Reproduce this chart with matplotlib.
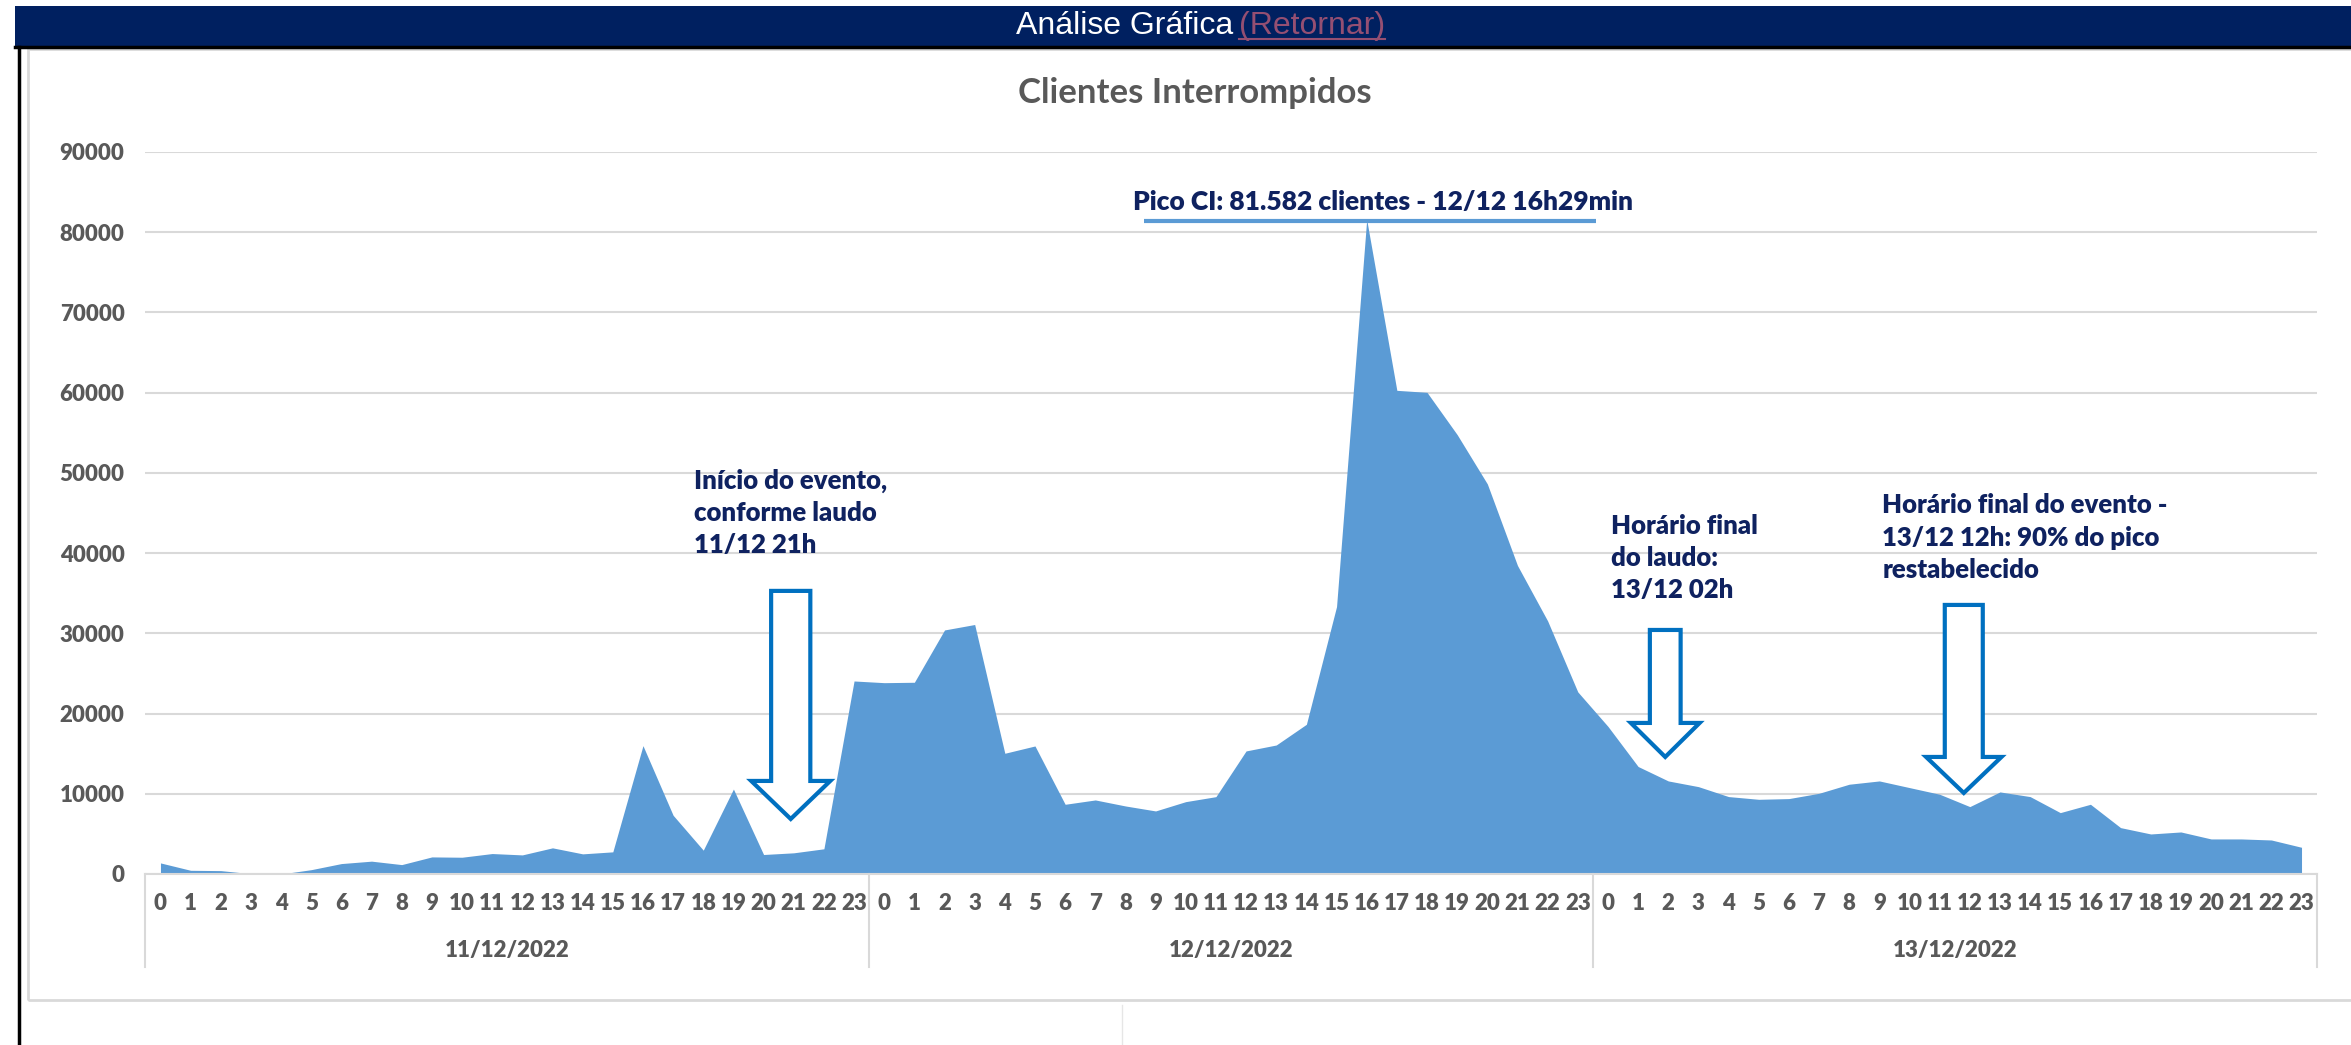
import matplotlib
matplotlib.use("Agg")
import matplotlib.pyplot as plt
from matplotlib.patches import Rectangle, FancyArrow
from matplotlib.lines import Line2D

# data: clientes interrompidos por hora
dates = ["11/12/2022", "12/12/2022", "13/12/2022"]
hours = list(range(24))
ci_11 = [1380, 460, 420, 40, 0, 540, 1300, 1600, 1170, 2130, 2090, 2550,
         2380, 3260, 2510, 2760, 16000, 7320, 2970, 10590, 2430, 2640, 3140, 24060]
ci_12 = [23850, 23900, 30420, 31100, 15050, 15960, 8690, 9230, 8480, 7860, 9020, 9640,
         15340, 16080, 18660, 33330, 81582, 60290, 60040, 54770, 48630, 38460, 31550, 22700]
ci_13 = [18400, 13400, 11600, 10890, 9650, 9310, 9400, 10060, 11190, 11600, 10770, 9940,
         8400, 10230, 9650, 7650, 8690, 5780, 4990, 5240, 4370, 4370, 4240, 3330]

ci = ci_11 + ci_12 + ci_13
hour_labels = [str(h) for h in hours] * len(dates)
x = list(range(len(ci)))

W, H = 2351, 1045
NAVY = "#0f2260"
GRAY = "#595959"
GRID = "#d9d9d9"
ARROW = "#0070c0"
FONT = ["Lato", "DejaVu Sans"]


def fx(px):
    return px / W


def fy(py):
    return 1 - py / H


fig = plt.figure(figsize=(W / 100, H / 100), dpi=100)

# page frame / header
fig.add_artist(Rectangle((fx(15), fy(46)), 1 - fx(15), fy(6) - fy(46), color="#002060", lw=0))
fig.add_artist(Rectangle((fx(28), fy(1000)), 1.0, fy(49) - fy(1000), fill=False, ec=GRID, lw=2))
fig.add_artist(Line2D([fx(15), 1], [fy(47), fy(47)], color="black", lw=2.5))
fig.add_artist(Line2D([fx(19), fx(19)], [fy(47), 0], color="black", lw=2.5))
fig.add_artist(Line2D([fx(1122), fx(1122)], [fy(1005), 0], color="#e6e6e6", lw=1))

fig.text(fx(1233), fy(26), "Análise Gráfica", ha="right", va="center",
         color="white", fontsize=23, family="Liberation Sans")
ret = fig.text(fx(1239), fy(26), "(Retornar)", ha="left", va="center",
               color="#954f72", fontsize=23, family="Liberation Sans")

fig.text(fx(1195), fy(93), "Clientes Interrompidos", ha="center", va="center",
         fontsize=25, fontweight="bold", color=GRAY, family=FONT)

ax = fig.add_axes([fx(145.4), fy(874), (2316.6 - 145.4) / W, (874 - 152) / H])
ax.fill_between(x, ci, 0, color="#5b9bd5", lw=0, zorder=2)
ax.set_xlim(-0.5, len(ci) - 0.5)
ax.set_ylim(0, 90000)
ax.set_yticks(range(0, 90001, 10000))
ax.yaxis.grid(True, color=GRID, lw=1.5)
ax.set_axisbelow(True)
for s in ["top", "right", "left"]:
    ax.spines[s].set_visible(False)
ax.spines["bottom"].set_color(GRID)
ax.spines["bottom"].set_linewidth(1.5)

ax.set_xticks(x, labels=hour_labels)
ax.tick_params(axis="both", length=0, labelsize=16, labelcolor=GRAY)
ax.tick_params(axis="y", pad=15)
ax.tick_params(axis="x", pad=14)
for lab in ax.get_xticklabels() + ax.get_yticklabels():
    lab.set_fontweight("heavy")
    lab.set_family(FONT)

# date groups
xt = ax.get_xaxis_transform()
for i, d in enumerate(dates):
    ax.text(i * 24 + 11.5, -0.1066, d, transform=xt, ha="center", va="center",
            fontsize=16, fontweight="heavy", color=GRAY, family=FONT)
for i in range(len(dates) + 1):
    ax.plot([i * 24 - 0.5] * 2, [0, -0.1288], transform=xt, clip_on=False,
            color=GRID, lw=1.5)

# annotations
peak = max(ci)
ipk = ci.index(peak)
ax.text(ipk + 0.55, 83800, "Pico CI: 81.582 clientes - 12/12 16h29min", ha="center",
        va="center", fontsize=19, fontweight="heavy", color=NAVY, family=FONT, zorder=5)
ax.plot([ipk - 7.4, ipk + 7.6], [81420, 81420], color="#5b9bd5", lw=3, zorder=5,
        solid_capstyle="butt")

notes = [
    (17.7, 45010, "Início do evento,\nconforme laudo\n11/12 21h"),
    (48.1, 39400, "Horário final\ndo laudo:\n13/12 02h"),
    (57.1, 41900, "Horário final do evento -\n13/12 12h: 90% do pico\nrestabelecido"),
]
for nx, ny, txt in notes:
    ax.text(nx, ny, txt, ha="left", va="center", fontsize=18.5, fontweight="heavy",
            color=NAVY, family=FONT, linespacing=1.42, zorder=5)

# (x, top, tip, head base, shaft width, head width)
arrows = [
    (20.9, 35290, 6860, 11600, 1.3, 2.62),
    (49.9, 30420, 14590, 18830, 1.02, 2.28),
    (59.8, 33540, 10100, 14590, 1.26, 2.5),
]
for ax_x, top, tip, base, w, hw in arrows:
    ax.add_patch(FancyArrow(ax_x, top, 0, tip - top, width=w, head_width=hw,
                            head_length=base - tip, length_includes_head=True,
                            fc="white", ec=ARROW, lw=3, zorder=4))

# underline the link text
fig.canvas.draw()
bb = ret.get_window_extent(fig.canvas.get_renderer())
fig.add_artist(Line2D([bb.x0 / W, bb.x1 / W], [(bb.y0 + 2) / H] * 2, color="#954f72", lw=1.5))

fig.savefig("out.png", dpi=100)
